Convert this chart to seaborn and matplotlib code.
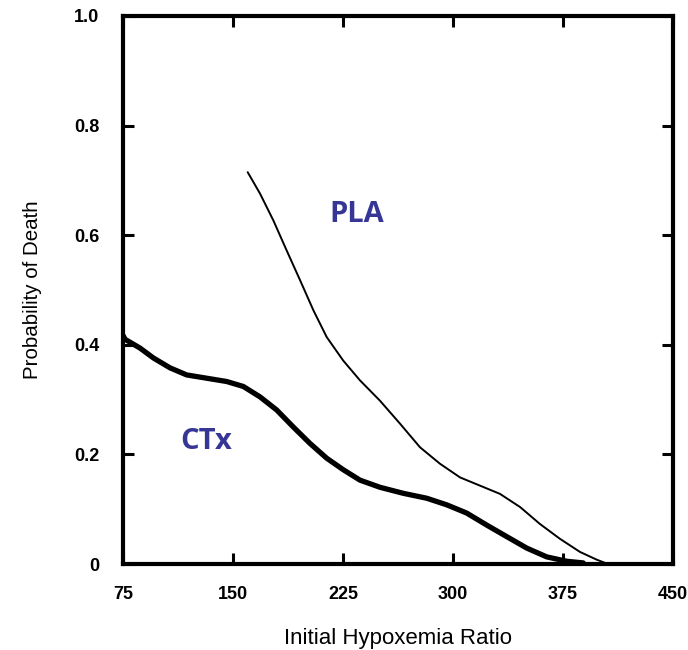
import matplotlib
matplotlib.use("Agg")
import matplotlib.pyplot as plt
import seaborn as sns
import pandas as pd

# Data
ctx_x = [75, 76.4, 86.6, 95.7, 107.0, 118.4, 132.1, 145.7, 157.0, 168.4, 179.8,
         191.1, 202.5, 213.9, 225.2, 236.6, 250.2, 266.1, 282.1, 295.7, 309.3,
         323.0, 336.6, 350.3, 363.9, 377.5, 388.8]
ctx_y = [0.417, 0.410, 0.394, 0.376, 0.358, 0.345, 0.339, 0.333, 0.324, 0.305, 0.281,
         0.250, 0.220, 0.193, 0.172, 0.153, 0.140, 0.129, 0.120, 0.108, 0.093,
         0.071, 0.050, 0.029, 0.013, 0.005, 0.002]

pla_x = [160.0, 168.4, 177.5, 186.6, 195.7, 204.8, 213.9, 225.2, 236.6, 250.2,
         263.9, 277.5, 291.1, 304.8, 318.4, 332.0, 345.7, 359.3, 372.9, 386.6,
         397.9, 404.7]
pla_y = [0.715, 0.676, 0.627, 0.572, 0.518, 0.463, 0.414, 0.371, 0.335, 0.298,
         0.256, 0.213, 0.183, 0.158, 0.143, 0.128, 0.104, 0.073, 0.046, 0.022,
         0.008, 0.001]

x_ticks = [75, 150, 225, 300, 375, 450]
y_ticks = [0, 0.2, 0.4, 0.6, 0.8, 1.0]
y_tick_labels = ["0", "0.2", "0.4", "0.6", "0.8", "1.0"]

sns.set_style("ticks")
plt.rcParams["font.family"] = ["Liberation Sans", "DejaVu Sans"]

df = pd.concat([
    pd.DataFrame({"ratio": ctx_x, "prob": ctx_y, "group": "CTx"}),
    pd.DataFrame({"ratio": pla_x, "prob": pla_y, "group": "PLA"}),
])

fig = plt.figure(figsize=(6.88, 6.5), dpi=100)
ax = fig.add_axes([0.1788, 0.1323, 0.7994, 0.8431])

sns.lineplot(data=df[df.group == "CTx"], x="ratio", y="prob", ax=ax,
             color="black", linewidth=3.8, sort=False, estimator=None,
             solid_joinstyle="round", solid_capstyle="round")
sns.lineplot(data=df[df.group == "PLA"], x="ratio", y="prob", ax=ax,
             color="black", linewidth=1.4, sort=False, estimator=None,
             solid_joinstyle="round", solid_capstyle="round")

ax.set_xlim(75, 450)
ax.set_ylim(0, 1.0)
ax.set_xticks(x_ticks)
ax.set_xticklabels([str(t) for t in x_ticks])
ax.set_yticks(y_ticks)
ax.set_yticklabels(y_tick_labels)

for s in ax.spines.values():
    s.set_visible(True)
    s.set_linewidth(3.0)
    s.set_color("black")

ax.tick_params(axis="both", which="both", direction="in", length=8, width=2.2,
               top=True, right=True, labeltop=False, labelright=False,
               labelsize=13, colors="black")
ax.tick_params(axis="y", pad=17)
ax.tick_params(axis="x", pad=16)
for lab in ax.get_xticklabels() + ax.get_yticklabels():
    lab.set_fontweight("bold")

ax.set_xlabel("Initial Hypoxemia Ratio", fontsize=16, labelpad=18, color="black")
ax.set_ylabel("Probability of Death", fontsize=14.8, labelpad=23, color="black")

ax.text(234.6, 0.637, "PLA", color="#363696", fontsize=21, fontweight="bold",
        family=["Open Sans", "DejaVu Sans"], ha="center", va="center")
ax.text(131.6, 0.224, "CTx", color="#363696", fontsize=21, fontweight="bold",
        family=["Open Sans", "DejaVu Sans"], ha="center", va="center")

if ax.get_legend() is not None:
    ax.get_legend().remove()

fig.savefig("out.png", dpi=100)
